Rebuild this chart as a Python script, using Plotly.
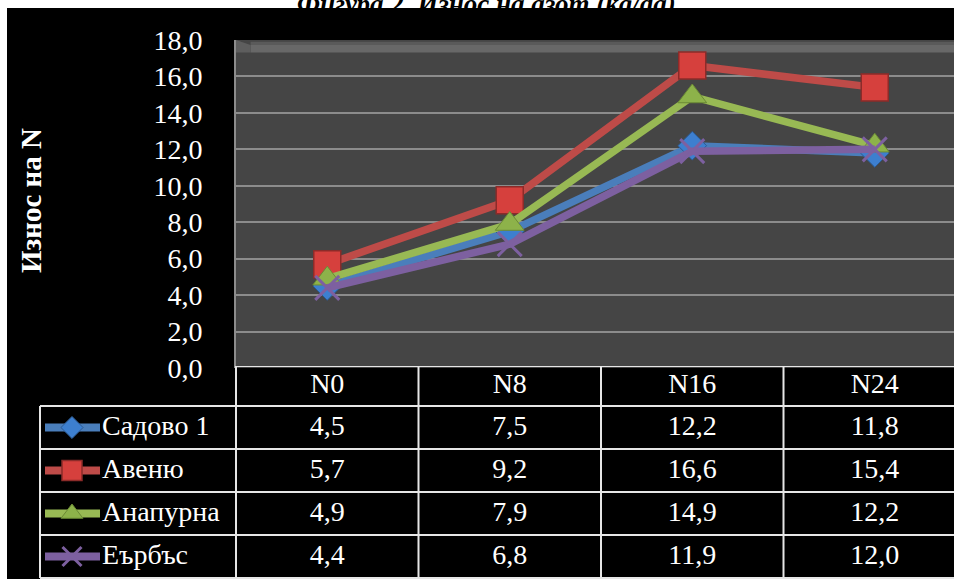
import plotly.graph_objects as go

# ---- data ----
categories = ["N0", "N8", "N16", "N24"]
series_names = ["Садово 1", "Авеню", "Анапурна", "Еърбъс"]
sadovo = [4.5, 7.5, 12.2, 11.8]
aveniu = [5.7, 9.2, 16.6, 15.4]
anapurna = [4.9, 7.9, 14.9, 12.2]
eyrbas = [4.4, 6.8, 11.9, 12.0]
y_ticks = [0, 2, 4, 6, 8, 10, 12, 14, 16, 18]

series_values = [sadovo, aveniu, anapurna, eyrbas]

# ---- styles ----
W, H = 954, 579
FONT = "Liberation Serif"
TXT = 28
line_colors = ["#4A7EBB", "#BE4B48", "#98B954", "#7D60A0"]
marker_styles = [
    dict(symbol="diamond", size=22, color="#3D7FCF", line=dict(color="#2C5A92", width=1)),
    dict(symbol="square", size=27, color="#D6403D", line=dict(color="#8C2B29", width=1.5)),
    dict(symbol="triangle-up", size=25, color="#8DB24A", line=dict(color="#6B8A35", width=1)),
    dict(symbol="x-thin-open", size=24, color="#7D60A0", line=dict(color="#7D60A0", width=3)),
]
legend_marker_sizes = [17, 20, 19, 19]

# geometry (pixels)
PLOT_L, PLOT_T, PLOT_B = 236, 40, 368
COL_W = 182.5
X0_PX = PLOT_L + COL_W / 2           # pixel centre of first category
TABLE_T, TABLE_B = 366, 579
TAB_L = 40
HEAD_H, ROW_H = 40, 43

def px2x(px):
    return (px - X0_PX) / COL_W

fig = go.Figure()

# ---- line chart ----
xs = list(range(len(categories)))
for name, vals, c, ms in zip(series_names, series_values, line_colors, marker_styles):
    fig.add_trace(go.Scatter(
        x=xs, y=vals, mode="lines+markers", name=name,
        line=dict(color=c, width=7.5),
        marker=ms, xaxis="x", yaxis="y", showlegend=False, hoverinfo="skip",
    ))

# ---- data table (x2 / y2) ----
row_centers = [HEAD_H + ROW_H * (i + 0.5) for i in range(len(series_names))]
fig.add_trace(go.Scatter(
    x=xs, y=[HEAD_H / 2] * len(categories), text=categories, mode="text",
    textfont=dict(family=FONT, size=TXT, color="white"),
    xaxis="x2", yaxis="y2", showlegend=False, hoverinfo="skip",
))
for rc, vals in zip(row_centers, series_values):
    fig.add_trace(go.Scatter(
        x=xs, y=[rc] * len(vals),
        text=[f"{v:.1f}".replace(".", ",") for v in vals], mode="text",
        textfont=dict(family=FONT, size=TXT, color="white"),
        xaxis="x2", yaxis="y2", showlegend=False, hoverinfo="skip",
    ))

# legend keys inside the table
key_l, key_r, key_m, lab_x = px2x(45), px2x(100), px2x(72), px2x(102)
for rc, name, c, ms, ls in zip(row_centers, series_names, line_colors, marker_styles, legend_marker_sizes):
    fig.add_trace(go.Scatter(
        x=[key_l, key_r], y=[rc, rc], mode="lines",
        line=dict(color=c, width=8), xaxis="x2", yaxis="y2",
        showlegend=False, hoverinfo="skip",
    ))
    m = dict(ms)
    m["size"] = ls
    fig.add_trace(go.Scatter(
        x=[key_m], y=[rc], mode="markers", marker=m,
        xaxis="x2", yaxis="y2", showlegend=False, hoverinfo="skip",
    ))
    fig.add_trace(go.Scatter(
        x=[lab_x], y=[rc], text=[name], mode="text", textposition="middle right",
        textfont=dict(family=FONT, size=TXT, color="white"),
        xaxis="x2", yaxis="y2", showlegend=False, hoverinfo="skip",
    ))

shapes = []
# white margins (top strip with title, left strip)
shapes.append(dict(type="rect", xref="paper", yref="paper", x0=0, x1=1,
                   y0=(H - 8) / H, y1=1.02, fillcolor="white", line_width=0, layer="above"))
shapes.append(dict(type="rect", xref="paper", yref="paper", x0=0, x1=7 / W,
                   y0=0, y1=1, fillcolor="white", line_width=0, layer="above"))
# plot area background + bevel
shapes.append(dict(type="rect", xref="x", yref="y", x0=-0.5, x1=3.6, y0=0, y1=18,
                   fillcolor="#454545", line_width=0, layer="below"))
shapes.append(dict(type="rect", xref="x", yref="y", x0=-0.42, x1=3.6, y0=17.32, y1=17.72,
                   fillcolor="#707070", line_width=0, layer="below", opacity=0.8))
shapes.append(dict(type="rect", xref="x", yref="y", x0=-0.42, x1=3.6, y0=17.72, y1=17.9,
                   fillcolor="#5a5a5a", line_width=0, layer="below"))
shapes.append(dict(type="path", xref="x", yref="y",
                   path="M -0.5 18 L -0.42 17.72 L -0.42 17.32 L -0.5 17.32 Z",
                   fillcolor="#5e5e5e", line_width=0, layer="below"))

# table borders
tab_rx = px2x(W + 20)
lc = "#E6E6E6"
row_lines = [HEAD_H + ROW_H * i for i in range(len(series_names) + 1)]
shapes.append(dict(type="line", xref="x2", yref="y2", x0=-0.5, x1=tab_rx, y0=0, y1=0,
                   line=dict(color=lc, width=2), layer="above"))
for yl in row_lines:
    shapes.append(dict(type="line", xref="x2", yref="y2", x0=px2x(TAB_L), x1=tab_rx,
                       y0=yl, y1=yl, line=dict(color=lc, width=2), layer="above"))
shapes.append(dict(type="line", xref="x2", yref="y2", x0=px2x(TAB_L), x1=px2x(TAB_L),
                   y0=HEAD_H, y1=row_lines[-1], line=dict(color=lc, width=2), layer="above"))
for i in range(len(categories)):
    xv = i - 0.5
    shapes.append(dict(type="line", xref="x2", yref="y2", x0=xv, x1=xv,
                       y0=0, y1=row_lines[-1], line=dict(color=lc, width=2), layer="above"))

annotations = [
    dict(text="<b><i>Фигура 2. Износ на азот (kg/da)</i></b>", xref="paper", yref="paper",
         x=487 / W, y=(H - 4) / H, xanchor="center", yanchor="middle", showarrow=False,
         font=dict(family=FONT, size=27, color="black")),
    dict(text="<b>Износ на N</b>", xref="paper", yref="paper", x=31 / W, y=(H - 201) / H,
         xanchor="center", yanchor="middle", textangle=-90, showarrow=False,
         font=dict(family=FONT, size=29, color="white")),
]

fig.update_layout(
    template="none",
    width=W, height=H,
    margin=dict(l=0, r=0, t=0, b=0, pad=0, autoexpand=False),
    paper_bgcolor="black", plot_bgcolor="rgba(0,0,0,0)",
    separators=",.",
    font=dict(family=FONT, color="white"),
    shapes=shapes, annotations=annotations,
    xaxis=dict(domain=[PLOT_L / W, 1], range=[-0.5, px2x(W)], showticklabels=False,
               showgrid=False, zeroline=False, showline=False, fixedrange=True,
               automargin=False, ticks=""),
    yaxis=dict(domain=[(H - PLOT_B) / H, (H - PLOT_T) / H], range=[0, 18],
               tickvals=y_ticks, tickformat=".1f",
               tickfont=dict(family=FONT, size=TXT, color="white"),
               ticklabelstandoff=26, ticks="", automargin=False,
               showgrid=True, gridcolor="#8C8C8C", gridwidth=2, zeroline=False,
               showline=True, linecolor="#8C8C8C", linewidth=2, fixedrange=True),
    xaxis2=dict(domain=[0, 1], range=[px2x(0), px2x(W)], anchor="y2", visible=False,
                fixedrange=True, automargin=False),
    yaxis2=dict(domain=[0, (H - TABLE_T) / H], range=[TABLE_B - TABLE_T, 0], anchor="x2",
                visible=False, fixedrange=True, automargin=False),
)

fig.write_html("out.html", config={"displayModeBar": False},
               post_script="document.body.style.margin='0px';document.body.style.overflow='hidden';")
